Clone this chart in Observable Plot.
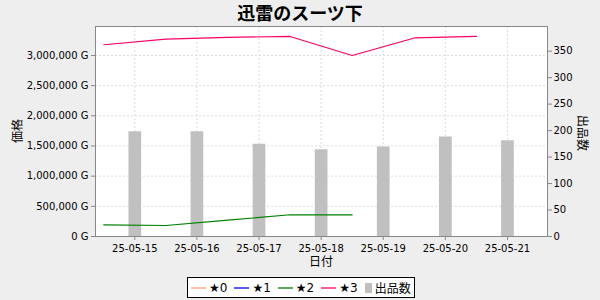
<!DOCTYPE html>
<html>
<head>
<meta charset="utf-8">
<script src="https://cdn.jsdelivr.net/npm/d3@7"></script>
<script src="https://cdn.jsdelivr.net/npm/@observablehq/plot@0.6"></script>
<style>
  html, body { margin: 0; padding: 0; background: #eeeeee; }
  #wrap { position: relative; width: 600px; height: 300px; background: #eeeeee; overflow: hidden; }
  #chart { position: absolute; left: 0; top: 0; }
  #title { position: absolute; left: 0; top: 0; width: 600px; text-align: center;
           font-family: "Noto Sans CJK JP", "DejaVu Sans", sans-serif; font-weight: bold;
           font-size: 18px; line-height: 24px; color: #000; }
  #legend { position: absolute; left: 187px; top: 277px; height: 19px; box-sizing: content-box;
            border: 1px solid #000; background: #fff; display: flex; align-items: center;
            padding: 0 3px 0 3px; font-family: "DejaVu Sans", "Noto Sans CJK JP", sans-serif;
            font-size: 12px; color: #000; white-space: nowrap; }
  #legend .item { display: flex; align-items: center; margin-right: 7px; }
  #legend .item:last-child { margin-right: 0; }
  #legend svg { display: block; margin-right: 3px; }
</style>
</head>
<body>
<div id="wrap">
  <div id="chart"></div>
  <div id="title"></div>
  <div id="legend"></div>
</div>
<script>
// ---- data ----
const chartTitle = "迅雷のスーツ下";
const xLabel = "日付";
const yLeftLabel = "価格";
const yRightLabel = "出品数";

const barDays = ["2025-05-15", "2025-05-16", "2025-05-17", "2025-05-18", "2025-05-19", "2025-05-20", "2025-05-21"];
const listings = [198, 198, 174, 164, 169, 188, 181];

const lineDays = ["2025-05-14T12:00Z", "2025-05-15T12:00Z", "2025-05-16T12:00Z", "2025-05-17T12:00Z",
                  "2025-05-18T12:00Z", "2025-05-19T12:00Z", "2025-05-20T12:00Z"];
const star0 = [null, null, null, null, null, null, null];
const star1 = [null, null, null, null, null, null, null];
const star2 = [194000, 182000, 270000, 360000, 360000, null, null];
const star3 = [3178000, 3270000, 3300000, 3315000, 3000000, 3290000, 3315000];

const seriesNames = ["★0", "★1", "★2", "★3"];
const seriesColors = ["#ffa07a", "#0000ff", "#008000", "#ff0066"];
const barName = "出品数";
const barColor = "#c0c0c0";

const priceTicks = [0, 500000, 1000000, 1500000, 2000000, 2500000, 3000000];
const countTicks = [0, 50, 100, 150, 200, 250, 300, 350];
const xTickDays = barDays;

const priceMax = 3480000;
const countMax = 396.6;
const xStart = "2025-05-14T08:49Z";
const xEnd = "2025-05-21T15:28Z";

// ---- build ----
const k = priceMax / countMax;
const bars = barDays.map((d, i) => ({date: new Date(d + "T00:00Z"), count: listings[i]}));
const seriesValues = [star0, star1, star2, star3];
const lines = [];
seriesValues.forEach((vals, s) => {
  vals.forEach((v, i) => {
    if (v != null) lines.push({series: seriesNames[s], date: new Date(lineDays[i]), price: v});
  });
});
const xTicks = xTickDays.map(d => new Date(d + "T00:00Z"));
const fmtDate = d3.utcFormat("%y-%m-%d");
const fmtPrice = d => d3.format(",")(d) + " G";

const plot = Plot.plot({
  width: 600,
  height: 300,
  marginLeft: 95,
  marginRight: 53,
  marginTop: 26,
  marginBottom: 64,
  style: {fontFamily: "DejaVu Sans, sans-serif", fontSize: "10px", color: "#000", background: "transparent"},
  x: {type: "utc", domain: [new Date(xStart), new Date(xEnd)]},
  y: {domain: [0, priceMax]},
  color: {domain: seriesNames, range: seriesColors},
  marks: [
    Plot.frame({fill: "white", stroke: "none"}),
    Plot.gridX(xTicks, {stroke: "#dddddd", strokeOpacity: 1, strokeDasharray: "2,2"}),
    Plot.gridY(priceTicks, {stroke: "#dddddd", strokeOpacity: 1, strokeDasharray: "2,2"}),
    Plot.ruleX(bars, {x: "date", y1: 0, y2: d => d.count * k, stroke: barColor, strokeWidth: 12.7}),
    Plot.line(lines, {x: "date", y: "price", z: "series", stroke: "series", strokeWidth: 1.2}),
    Plot.frame({stroke: "#888888"}),
    Plot.axisX(xTicks, {tickFormat: fmtDate, tickSize: 4, tickPadding: 4, stroke: "#888888", label: null, fill: "#000"}),
    Plot.axisY(priceTicks, {anchor: "left", tickFormat: fmtPrice, tickSize: 4, tickPadding: 3, stroke: "#888888", label: null, fill: "#000"}),
    Plot.axisY(countTicks.map(c => c * k), {anchor: "right", tickFormat: d => String(Math.round(d / k)), tickSize: 4, tickPadding: 2, stroke: "#888888", label: null, fill: "#000"})
  ]
});
document.getElementById("chart").appendChild(plot);

// axis labels
const svg = d3.select(plot);
const labFont = "Noto Sans CJK JP, DejaVu Sans, sans-serif";
svg.append("text").text(xLabel)
  .attr("x", 321).attr("y", 266)
  .attr("text-anchor", "middle").attr("font-family", labFont).attr("font-size", 12).attr("fill", "#000");
svg.append("text").text(yLeftLabel)
  .attr("transform", "translate(22,131) rotate(-90)")
  .attr("text-anchor", "middle").attr("font-family", labFont).attr("font-size", 12).attr("fill", "#000");
svg.append("text").text(yRightLabel)
  .attr("transform", "translate(578,133) rotate(90)")
  .attr("text-anchor", "middle").attr("font-family", labFont).attr("font-size", 12).attr("fill", "#000");

// title
document.getElementById("title").textContent = chartTitle;

// legend
const legend = d3.select("#legend");
seriesNames.forEach((name, i) => {
  const it = legend.append("div").attr("class", "item");
  const sw = it.append("svg").attr("width", 15).attr("height", 10);
  sw.append("line").attr("x1", 0).attr("x2", 15).attr("y1", 5).attr("y2", 5)
    .attr("stroke", seriesColors[i]).attr("stroke-width", 1.3);
  it.append("span").text(name);
});
const bi = legend.append("div").attr("class", "item");
const bs = bi.append("svg").attr("width", 7).attr("height", 10);
bs.append("rect").attr("width", 7).attr("height", 10).attr("fill", barColor);
bi.append("span").style("font-family", "Noto Sans CJK JP, DejaVu Sans, sans-serif").text(barName);
</script>
</body>
</html>
